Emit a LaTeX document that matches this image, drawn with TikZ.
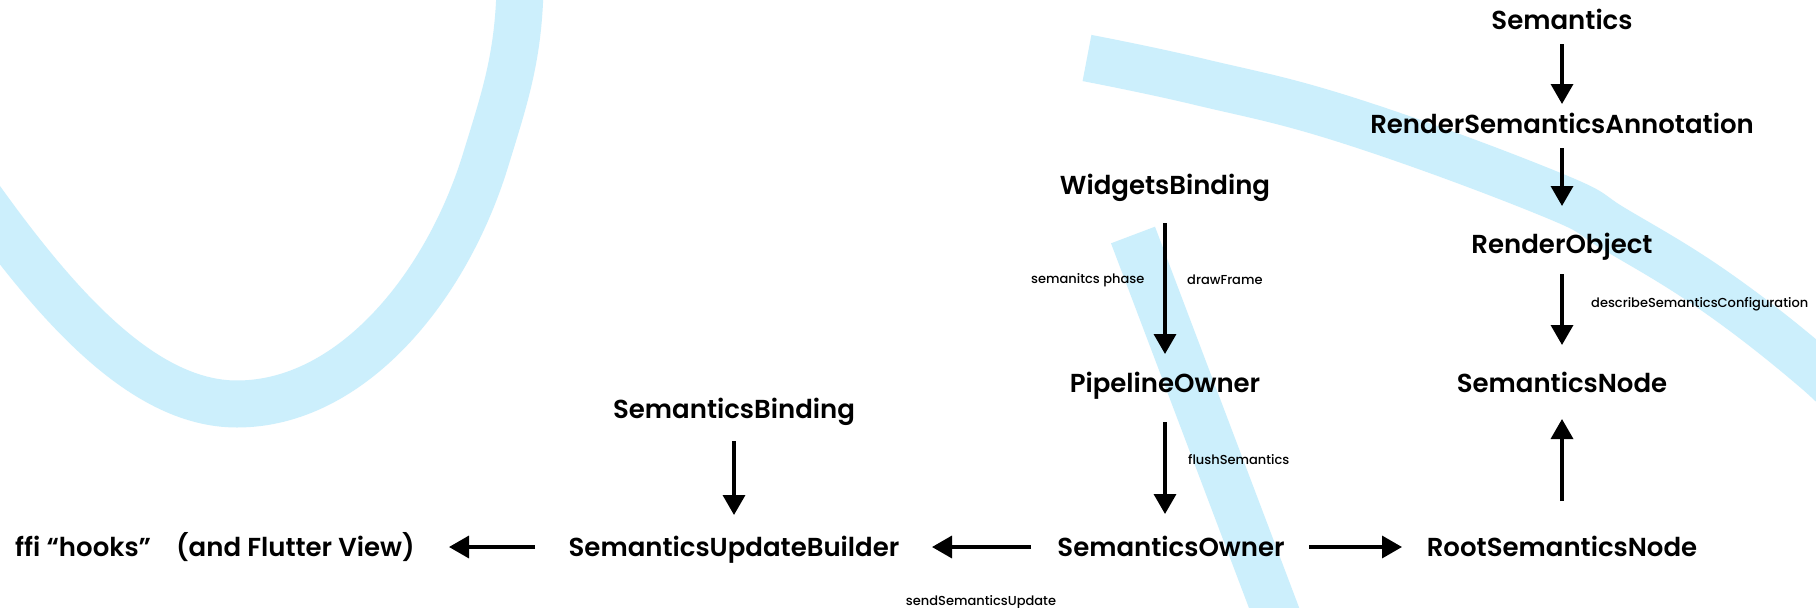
\documentclass[tikz,border=0pt]{standalone}
\usepackage{fontspec}
\setmainfont{Poppins SemiBold}
\newfontfamily\smallfont{Poppins Medium}
\usetikzlibrary{arrows.meta,calc}
\definecolor{bandblue}{RGB}{204,239,252}
\begin{document}
\begin{tikzpicture}[x=1pt,y=-1pt,
  lbl/.style={font=\fontsize{26}{30}\selectfont, inner sep=0pt, text height=18.2pt, text depth=0pt},
  sml/.style={font=\smallfont\fontsize{13}{15}\selectfont, inner sep=0pt, text height=9.1pt, text depth=0pt},
  arr/.style={line width=3.5pt, -{Triangle[length=20pt,width=22pt]}},
  band/.style={line width=47pt, draw=bandblue, line cap=butt}]
\useasboundingbox (0,0) rectangle (1816,608);
\fill[white] (0,0) rectangle (1816,608);
\begin{scope}
\clip (0,0) rectangle (1816,608);
\draw[band] (-40,170) .. controls (50,300) and (140,404) .. (237,404)
  .. controls (350,404) and (445,290) .. (485,162)
  .. controls (504,100) and (518,60) .. (520,-10);
\draw[band] plot[smooth, tension=0.7] coordinates {(1087,58) (1200,82) (1350,121) (1550,194) (1616,230) (1716,292) (1816,370) (1860,415)};
\draw[band] (1133,235) -- (1290,650);
\end{scope}
\node[lbl] (sem) at (1562,20) {Semantics};
\node[lbl] (rsa) at (1562,124) {RenderSemanticsAnnotation};
\node[lbl] (ro) at (1562,244) {RenderObject};
\node[lbl] (sn) at (1562,383) {SemanticsNode};
\node[lbl] (rsn) at (1562,547) {RootSemanticsNode};
\node[lbl] (so) at (1171,547) {SemanticsOwner};
\node[lbl] (po) at (1165,383) {PipelineOwner};
\node[lbl] (wb) at (1165,185) {WidgetsBinding};
\node[lbl] (sub) at (734,547) {SemanticsUpdateBuilder};
\node[lbl] (sb) at (734,409) {SemanticsBinding};
\node[lbl] (ffi) at (215,547) {ffi “hooks”\hspace{25pt}(and Flutter View)};
\node[sml, anchor=west] (lph) at (1031,279) {semanitcs phase};
\node[sml, anchor=west] (ldf) at (1187,280) {drawFrame};
\node[sml, anchor=west] (lfs) at (1188,460) {flushSemantics};
\node[sml, anchor=west] (ldsc) at (1591,303) {describeSemanticsConfiguration};
\node[sml] (lssu) at (981,601) {sendSemanticsUpdate};
\draw[arr] ($(sem)+(0,24)$) -- ($(rsa)+(0,-20)$);
\draw[arr] ($(rsa)+(0,24)$) -- ($(ro)+(0,-38)$);
\draw[arr] ($(ro)+(0,30)$) -- ($(sn)+(0,-38)$);
\draw[arr] ($(rsn)+(0,-46)$) -- ($(sn)+(0,36)$);
\draw[arr] ($(so)+(138,0)$) -- ($(rsn)+(-160,0)$);
\draw[arr] ($(po)+(0,39)$) -- ($(po|-so)+(0,-33)$);
\draw[arr] ($(wb)+(0,38)$) -- ($(po)+(0,-29)$);
\draw[arr] ($(so)+(-140,0)$) -- ($(sub)+(198,0)$);
\draw[arr] ($(sb)+(0,32)$) -- ($(sub)+(0,-32)$);
\draw[arr] ($(sub)+(-199,0)$) -- ($(ffi)+(234,0)$);
\end{tikzpicture}
\end{document}
